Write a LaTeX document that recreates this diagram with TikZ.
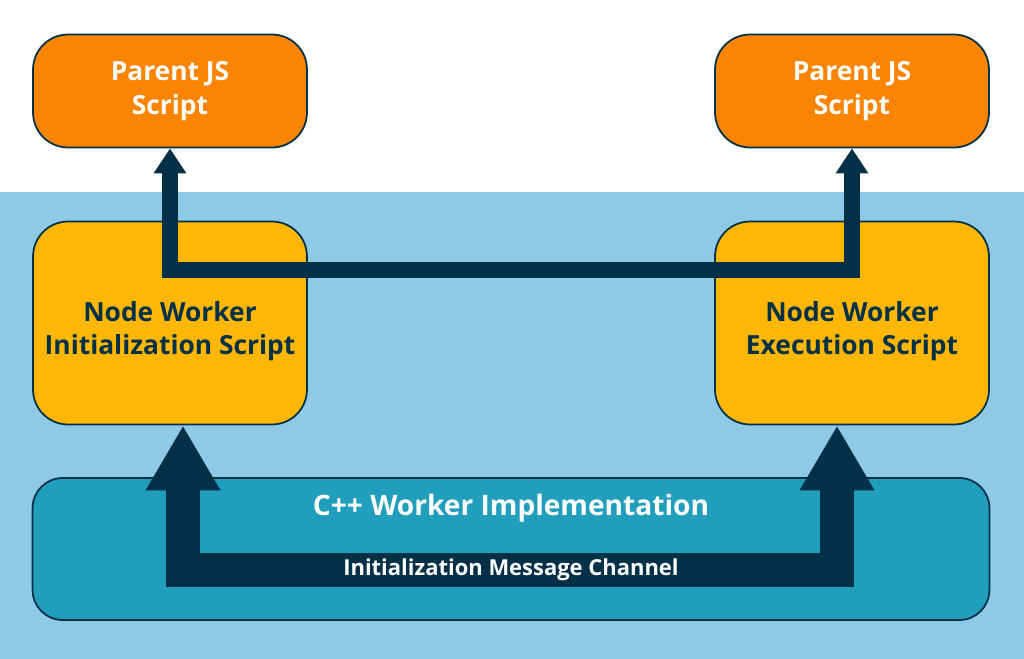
\documentclass[tikz,border=0pt]{standalone}
\usepackage{fontspec}
\setmainfont{Open Sans}
\usetikzlibrary{arrows.meta}
\definecolor{navy}{HTML}{023047}
\definecolor{skyblue}{HTML}{8ECAE6}
\definecolor{teal}{HTML}{219EBC}
\definecolor{amber}{HTML}{FFB703}
\definecolor{orangeish}{HTML}{FB8500}
\begin{document}
\begin{tikzpicture}[x=0.02cm, y=-0.02cm,
    box/.style={draw=navy, line width=1pt, rounded corners=0.7cm, align=center, font=\bfseries\fontsize{15}{19}\selectfont},
    parent/.style={box, fill=orangeish, text=white, minimum width=5.48cm, minimum height=2.26cm},
    worker/.style={box, fill=amber, text=navy, minimum width=5.48cm, minimum height=4.06cm},
    workertext/.style={align=center, text=navy, font=\bfseries\fontsize{15}{19}\selectfont},
    pipe/.style={draw=navy, line width=0.32cm, line join=miter, {Triangle[length=0.5cm,width=0.62cm]}-{Triangle[length=0.5cm,width=0.62cm]}},
    bigpipe/.style={draw=navy, line width=0.68cm, line join=miter, {Triangle[length=1.3cm,width=1.4cm]}-{Triangle[length=1.3cm,width=1.4cm]}}]
    \useasboundingbox (0,0) rectangle (1024,659);
    \fill[skyblue] (0,192) rectangle (1024,659);

    % top row
    \node[parent] (parentL) at (170,91) {Parent JS\\Script};
    \node[parent] (parentR) at (852,91) {Parent JS\\Script};

    % workers
    \node[worker] (init) at (170,323) {};
    \node[worker] (exec) at (852,323) {};

    % C++ layer
    \node[box, fill=teal, minimum width=19.14cm, minimum height=2.84cm, rounded corners=0.6cm] (impl) at (511,549) {};
    \node[text=white, font=\bfseries\fontsize{16}{20}\selectfont] (implLabel) at (511,508) {C++ Worker Implementation};

    % channels
    \coordinate (topMid) at (511,270);
    \draw[pipe] (parentL.south) |- (topMid) -| (parentR.south);
    \node[workertext] (initLabel) at (170,331) {Node Worker\\Initialization Script};
    \node[workertext] (execLabel) at (852,331) {Node Worker\\Execution Script};
    \coordinate (chan) at (511,570);
    \draw[bigpipe] ([xshift=0.26cm]init.south) |- (chan) -| ([xshift=-0.3cm]exec.south);
    \node[text=white, font=\bfseries\fontsize{12.5}{16}\selectfont] (chanLabel) at (chan) {Initialization Message Channel};
\end{tikzpicture}
\end{document}
